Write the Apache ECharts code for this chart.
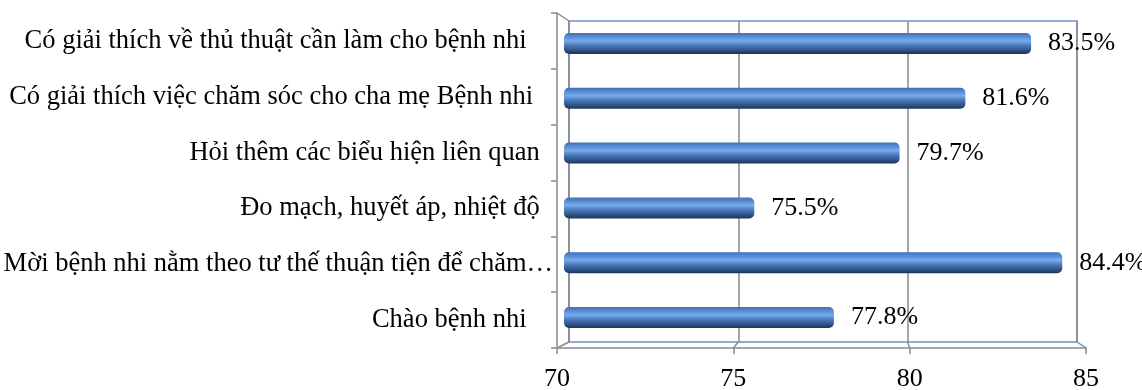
<!DOCTYPE html>
<html>
<head>
<meta charset="utf-8">
<script src="https://cdn.jsdelivr.net/npm/echarts@6/dist/echarts.min.js"></script>
<style>
  html, body { margin: 0; padding: 0; background: #fff; }
  #chart { width: 1142px; height: 390px; }
</style>
</head>
<body>
<div id="chart"></div>
<script>
// Survey items, listed top to bottom
const categories = [
  'Có giải thích về thủ thuật cần làm cho bệnh nhi    ',
  'Có giải thích việc chăm sóc cho cha mẹ Bệnh nhi   ',
  'Hỏi thêm các biểu hiện liên quan  ',
  'Đo mạch, huyết áp, nhiệt độ  ',
  'Mời bệnh nhi nằm theo tư thế thuận tiện để chăm…',
  'Chào bệnh nhi    '
];
// Percentage of cases where each step was done
const values = [83.5, 81.6, 79.7, 75.5, 84.4, 77.8];
// Value axis range and tick labels
const xMin = 70;
const xMax = 85;
const xStep = 5;
const xTicks = [70, 75, 80, 85];

const FONT = 'Liberation Serif';
const GRAY = '#8a8a8a';
const WALL = '#6f8fc6';

// Three stacked plot areas give the 3D look: back wall, bar plane, front axes
const W = 1142, H = 390;
const back  = { left: 569,   right: W - 1077,   top: 21, bottom: H - 342 };
const mid   = { left: 564,   right: W - 1083,   top: 16, bottom: H - 345 };
const front = { left: 557,   right: W - 1086,   top: 13, bottom: H - 348 };

const chart = echarts.init(document.getElementById('chart'), null, { renderer: 'canvas' });

const gridBase = { containLabel: false, outerBoundsMode: 'none' };

const option = {
  animation: false,
  backgroundColor: '#ffffff',
  textStyle: { fontFamily: FONT },
  grid: [
    Object.assign({}, gridBase, back, { show: true, borderColor: WALL, borderWidth: 1.5, backgroundColor: 'transparent' }),
    Object.assign({}, gridBase, mid),
    Object.assign({}, gridBase, front)
  ],
  xAxis: [
    { // back wall gridlines
      gridIndex: 0, type: 'value', min: xMin, max: xMax, interval: xStep,
      axisLine: { show: false }, axisTick: { show: false }, axisLabel: { show: false },
      splitLine: { show: true, lineStyle: { color: GRAY, width: 1.5 } }
    },
    { // bar plane
      gridIndex: 1, type: 'value', min: xMin, max: xMax, interval: xStep,
      show: false
    },
    { // front axis with tick labels
      gridIndex: 2, type: 'value', min: xMin, max: xMax, interval: xStep,
      axisLine: { show: true, lineStyle: { color: GRAY, width: 1.5 } },
      axisTick: { show: true, length: 6, lineStyle: { color: GRAY, width: 1.5 } },
      splitLine: { show: false },
      axisLabel: {
        show: true, margin: 18, color: '#000',
        fontFamily: FONT, fontSize: 26,
        customValues: xTicks
      }
    }
  ],
  yAxis: [
    { gridIndex: 0, type: 'category', data: categories, inverse: true, show: false },
    { gridIndex: 1, type: 'category', data: categories, inverse: true, show: false },
    {
      gridIndex: 2, type: 'category', data: categories, inverse: true,
      axisLine: { show: true, lineStyle: { color: GRAY, width: 1.5 } },
      axisTick: { show: true, length: 6, alignWithLabel: false, lineStyle: { color: GRAY, width: 1.5 } },
      splitLine: { show: false },
      axisLabel: {
        show: true, margin: 4, color: '#000', align: 'right',
        fontFamily: FONT, fontSize: 26.5, interval: 0
      }
    }
  ],
  series: [
    {
      type: 'bar',
      xAxisIndex: 1,
      yAxisIndex: 1,
      data: values,
      barWidth: 21,
      itemStyle: {
        borderRadius: 5,
        color: new echarts.graphic.LinearGradient(0, 0, 0, 1, [
          { offset: 0.0, color: '#3f6fb6' },
          { offset: 0.2, color: '#5a8fd6' },
          { offset: 0.38, color: '#76abec' },
          { offset: 0.6, color: '#4a78b8' },
          { offset: 0.85, color: '#2c4f82' },
          { offset: 1.0, color: '#1c3356' }
        ])
      },
      label: {
        show: true,
        position: 'right',
        distance: 17,
        color: '#000',
        fontFamily: FONT,
        fontSize: 26,
        formatter: p => p.value.toFixed(1) + '%'
      }
    }
  ]
};

chart.setOption(option);

// Depth edges joining the front axes to the back wall, placed through the axis scales
function depthEdges() {
  const els = [];
  const backBottom = H - back.bottom;
  const frontBottom = H - front.bottom;
  xTicks.forEach(v => {
    const xb = chart.convertToPixel({ xAxisIndex: 0 }, v);
    const xf = chart.convertToPixel({ xAxisIndex: 2 }, v);
    els.push({
      type: 'line',
      shape: { x1: xb, y1: backBottom, x2: xf, y2: frontBottom },
      style: { stroke: v === xMax ? WALL : GRAY, lineWidth: 1.5 },
      silent: true
    });
  });
  const xbl = chart.convertToPixel({ xAxisIndex: 0 }, xMin);
  const xfl = chart.convertToPixel({ xAxisIndex: 2 }, xMin);
  els.push({
    type: 'line',
    shape: { x1: xfl, y1: front.top, x2: xbl, y2: back.top },
    style: { stroke: GRAY, lineWidth: 1.5 },
    silent: true
  });
  chart.setOption({ graphic: { elements: els } });
}
depthEdges();
</script>
</body>
</html>
